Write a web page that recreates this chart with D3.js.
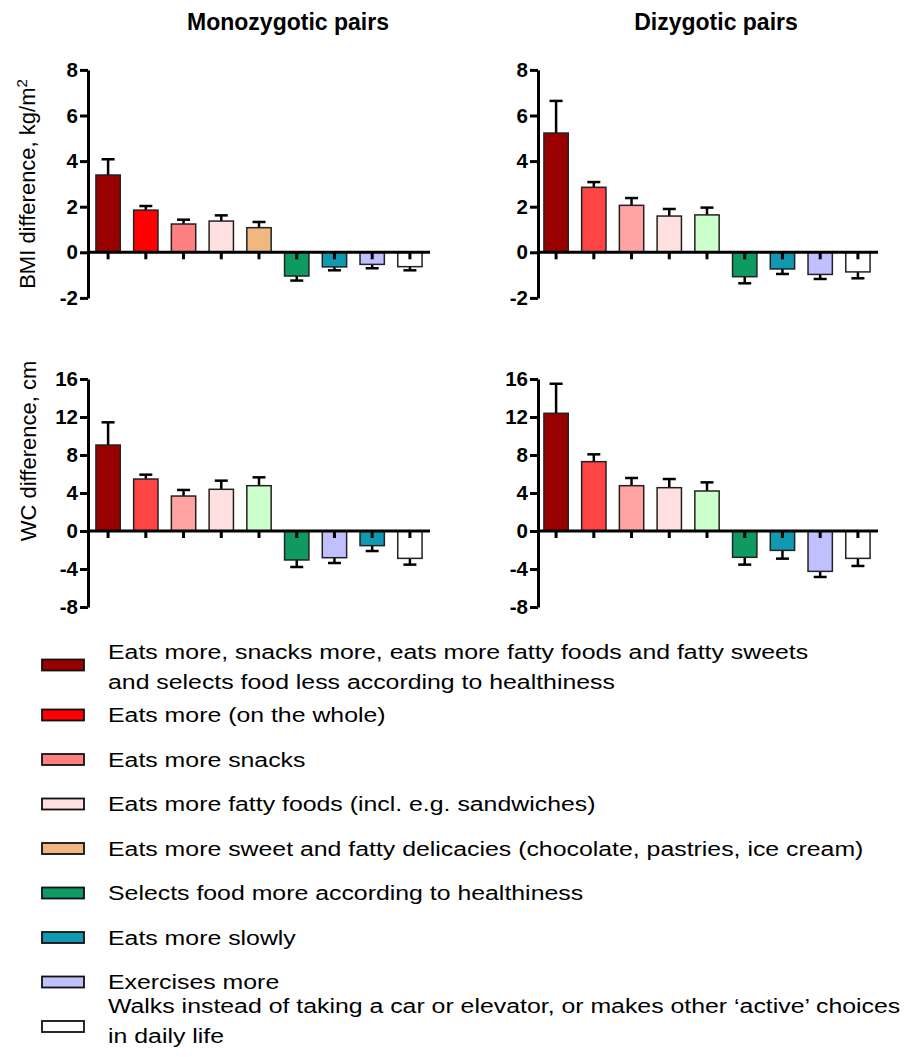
<!DOCTYPE html>
<html>
<head>
<meta charset="utf-8">
<script src="https://cdn.jsdelivr.net/npm/d3@7"></script>
<style>
  body { margin: 0; background: #fff; }
  svg text { font-family: "Liberation Sans", Arial, sans-serif; fill: #000; }
</style>
</head>
<body>
<div id="chart"></div>
<script>
// Behaviour categories (legend order)
const categories = [
  "Eats more, snacks more, eats more fatty foods and fatty sweets\nand selects food less according to healthiness",
  "Eats more (on the whole)",
  "Eats more snacks",
  "Eats more fatty foods (incl. e.g. sandwiches)",
  "Eats more sweet and fatty delicacies (chocolate, pastries, ice cream)",
  "Selects food more according to healthiness",
  "Eats more slowly",
  "Exercises more",
  "Walks instead of taking a car or elevator, or makes other \u2018active\u2019 choices\nin daily life"
];

// colours used in the legend and the monozygotic BMI panel
const legendColors = ["#990000", "#ff0000", "#ff8080", "#ffe0e0", "#f0b880", "#0f9a62", "#1099b1", "#c0c0ff", "#ffffff"];
// colours used in the other three panels
const panelColors = ["#990000", "#ff4444", "#ffa3a3", "#ffe0e0", "#ccffcc", "#0f9a62", "#1099b1", "#c0c0ff", "#ffffff"];

// bar order within each panel (indexes into categories)
const orderDefault = [0, 1, 2, 3, 4, 5, 6, 7, 8];
const orderMzWC = [0, 1, 2, 3, 4, 5, 7, 6, 8];

// mean differences and SEM, in bar order
const mzBMI = [3.39, 1.85, 1.24, 1.37, 1.08, -1.04, -0.64, -0.53, -0.63];
const mzBMIsem = [0.69, 0.18, 0.19, 0.25, 0.25, 0.20, 0.15, 0.17, 0.16];
const dzBMI = [5.23, 2.85, 2.06, 1.59, 1.64, -1.07, -0.73, -0.97, -0.86];
const dzBMIsem = [1.41, 0.23, 0.32, 0.31, 0.32, 0.29, 0.22, 0.20, 0.28];
const mzWC = [9.05, 5.47, 3.68, 4.39, 4.77, -3.05, -2.81, -1.54, -2.88];
const mzWCsem = [2.39, 0.46, 0.64, 0.91, 0.88, 0.74, 0.56, 0.57, 0.66];
const dzWC = [12.39, 7.30, 4.77, 4.56, 4.21, -2.77, -2.04, -4.25, -2.88];
const dzWCsem = [3.11, 0.77, 0.81, 0.91, 0.91, 0.77, 0.87, 0.59, 0.80];

const bmiTicks = [-2, 0, 2, 4, 6, 8];
const wcTicks = [-8, -4, 0, 4, 8, 12, 16];

const titles = ["Monozygotic pairs", "Dizygotic pairs"];

const width = 913;
const height = 1057;

const svg = d3.select("#chart")
  .append("svg")
  .attr("width", width)
  .attr("height", height);

svg.append("rect").attr("width", width).attr("height", height).attr("fill", "#fff");

// column / row geometry
const cols = [
  { axisX: 88, x0: 88, x1: 430, cx: 288 },
  { axisX: 538, x0: 536, x1: 878, cx: 716 }
];
const rows = [
  { domain: [-2, 8], range: [297.9, 69.9], ticks: bmiTicks },
  { domain: [-8, 16], range: [607, 379], ticks: wcTicks }
];

const panels = [
  { col: 0, row: 0, values: mzBMI, sem: mzBMIsem, order: orderDefault, colors: legendColors },
  { col: 1, row: 0, values: dzBMI, sem: dzBMIsem, order: orderDefault, colors: panelColors },
  { col: 0, row: 1, values: mzWC, sem: mzWCsem, order: orderMzWC, colors: panelColors },
  { col: 1, row: 1, values: dzWC, sem: dzWCsem, order: orderDefault, colors: panelColors }
];

// titles
titles.forEach((t, i) => {
  svg.append("text")
    .attr("x", cols[i].cx)
    .attr("y", 29.5)
    .attr("text-anchor", "middle")
    .style("font-size", "23px")
    .style("font-weight", "bold")
    .text(t);
});

// y axis labels
const bmiLabel = svg.append("text")
  .attr("transform", "translate(34.5,184) rotate(-90)")
  .attr("text-anchor", "middle")
  .style("font-size", "22px");
bmiLabel.append("tspan").text("BMI difference, kg/m");
bmiLabel.append("tspan").attr("baseline-shift", "super").style("font-size", "15px").text("2");

svg.append("text")
  .attr("transform", "translate(36,451) rotate(-90)")
  .attr("text-anchor", "middle")
  .style("font-size", "22px")
  .text("WC difference, cm");

panels.forEach((p) => {
  const c = cols[p.col];
  const r = rows[p.row];
  const g = svg.append("g");

  const x = d3.scaleBand()
    .domain(d3.range(p.values.length))
    .range([c.x0, c.x1])
    .paddingInner(0.355)
    .paddingOuter(0.21);

  const y = d3.scaleLinear().domain(r.domain).range(r.range);

  const bars = p.values.map((v, i) => ({
    i: i,
    v: v,
    e: v >= 0 ? v + p.sem[i] : v - p.sem[i],
    color: p.colors[p.order[i]]
  }));

  // error bars (outward only)
  const err = g.selectAll(".err").data(bars).enter().append("g").attr("class", "err")
    .attr("stroke", "#000")
    .attr("stroke-width", 2.5);
  err.append("line")
    .attr("x1", (d) => x(d.i) + x.bandwidth() / 2)
    .attr("x2", (d) => x(d.i) + x.bandwidth() / 2)
    .attr("y1", (d) => y(d.v))
    .attr("y2", (d) => y(d.e));
  err.append("line")
    .attr("x1", (d) => x(d.i) + x.bandwidth() / 2 - 6.5)
    .attr("x2", (d) => x(d.i) + x.bandwidth() / 2 + 6.5)
    .attr("y1", (d) => y(d.e))
    .attr("y2", (d) => y(d.e));

  // bars
  g.selectAll(".bar").data(bars).enter().append("rect")
    .attr("class", "bar")
    .attr("x", (d) => x(d.i))
    .attr("width", x.bandwidth())
    .attr("y", (d) => y(Math.max(0, d.v)))
    .attr("height", (d) => Math.abs(y(d.v) - y(0)))
    .attr("fill", (d) => d.color)
    .attr("stroke", "#222")
    .attr("stroke-width", 1.5);

  // x axis: ticks below zero line
  const xAxis = g.append("g")
    .attr("transform", `translate(0,${y(0)})`)
    .call(d3.axisBottom(x).tickSize(7).tickSizeOuter(0).tickFormat(""));
  xAxis.select(".domain").remove();
  xAxis.selectAll(".tick line").attr("stroke", "#000").attr("stroke-width", 3);

  g.append("line")
    .attr("x1", c.axisX)
    .attr("x2", c.x1)
    .attr("y1", y(0))
    .attr("y2", y(0))
    .attr("stroke", "#000")
    .attr("stroke-width", 3);

  // y axis
  const yAxis = g.append("g")
    .attr("transform", `translate(${c.axisX},0)`)
    .call(d3.axisLeft(y).tickValues(r.ticks).tickSize(8).tickSizeOuter(0).tickPadding(2)
      .tickFormat((d) => String(d)));
  yAxis.select(".domain").attr("stroke", "#000").attr("stroke-width", 3);
  yAxis.selectAll(".tick line").attr("stroke", "#000").attr("stroke-width", 3);
  yAxis.selectAll(".tick text")
    .style("font-family", '"Liberation Sans", Arial, sans-serif')
    .style("font-size", "20.5px")
    .style("font-weight", "bold")
    .attr("fill", "#000");
});

// legend
const legend = svg.append("g");
categories.forEach((label, i) => {
  const cy = i === 0 ? 665 : 715 + (i - 1) * 44.5;
  legend.append("rect")
    .attr("x", 42)
    .attr("y", cy - 5.5)
    .attr("width", 42)
    .attr("height", 11)
    .attr("fill", legendColors[i])
    .attr("stroke", "#111")
    .attr("stroke-width", 1.8);

  const lines = label.split("\n");
  const first = lines.length === 1 ? 7 : (i === 0 ? -6 : -14);
  lines.forEach((line, j) => {
    legend.append("text")
      .attr("transform", `translate(108,${cy + first + j * 30}) scale(1.275,1)`)
      .style("font-size", "19.5px")
      .text(line);
  });
});
</script>
</body>
</html>
